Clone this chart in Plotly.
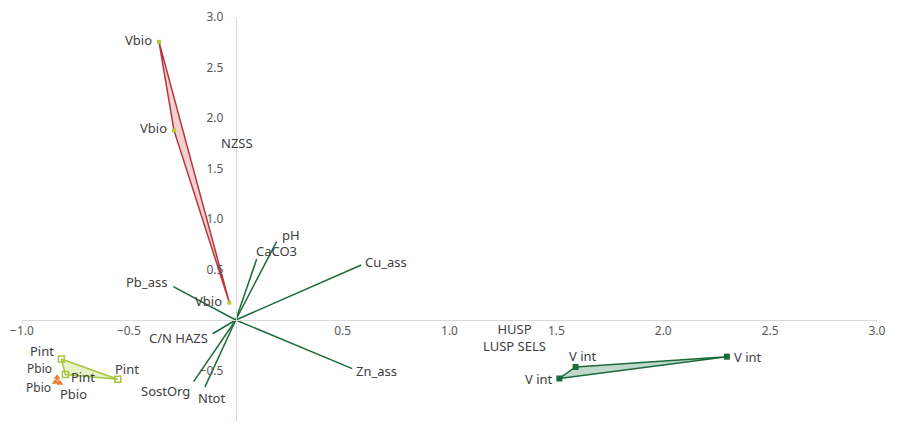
import plotly.graph_objects as go

# Group scores (x, y)
vbio_x = [-0.359, -0.289, -0.030]
vbio_y = [2.754, 1.877, 0.172]

pint_x = [-0.816, -0.797, -0.552]
pint_y = [-0.386, -0.540, -0.586]

pbio_x = [-0.836, -0.845, -0.822]
pbio_y = [-0.566, -0.616, -0.626]

vint_x = [1.514, 1.590, 2.298]
vint_y = [-0.579, -0.465, -0.363]

# Variable loadings (arrow tips from the origin)
var_names = ["pH", "CaCO3", "Cu_ass", "Zn_ass", "Pb_ass", "C/N HAZS", "SostOrg", "Ntot"]
var_x = [0.191, 0.098, 0.587, 0.545, -0.292, -0.108, -0.197, -0.144]
var_y = [0.776, 0.603, 0.544, -0.481, 0.330, -0.136, -0.610, -0.662]

# Loose labels without a drawn mark
free_labels = ["NZSS", "HUSP<br>LUSP SELS"]
free_x = [0.006, 1.305]
free_y = [1.749, -0.177]

x_ticks = [-1.0, -0.5, 0.5, 1.0, 1.5, 2.0, 2.5, 3.0]
y_ticks = [-1.0, -0.5, 0.5, 1.0, 1.5, 2.0, 2.5, 3.0]

FONT = "Noto Sans"
TXT = "#404040"
DKGREEN = "#1B6B3A"

fig = go.Figure()


def closed(a):
    return list(a) + [a[0]]


# Group hulls
fig.add_trace(go.Scatter(x=closed(vbio_x), y=closed(vbio_y), mode="lines", fill="toself",
                         fillcolor="rgba(214,120,120,0.35)", line=dict(color="#B8343A", width=1.5),
                         hoverinfo="skip"))
fig.add_trace(go.Scatter(x=closed(pint_x), y=closed(pint_y), mode="lines", fill="toself",
                         fillcolor="rgba(190,214,90,0.35)", line=dict(color="#A5C640", width=1.5),
                         hoverinfo="skip"))
fig.add_trace(go.Scatter(x=closed(pbio_x), y=closed(pbio_y), mode="lines", fill="toself",
                         fillcolor="rgba(237,125,49,0.6)", line=dict(color="#ED7D31", width=1.2),
                         hoverinfo="skip"))
fig.add_trace(go.Scatter(x=closed(vint_x), y=closed(vint_y), mode="lines", fill="toself",
                         fillcolor="rgba(60,140,95,0.33)", line=dict(color=DKGREEN, width=1.5),
                         hoverinfo="skip"))

# Loading vectors
for n, vx, vy in zip(var_names, var_x, var_y):
    fig.add_trace(go.Scatter(x=[0, vx], y=[0, vy], mode="lines",
                             line=dict(color=DKGREEN, width=1.5), hoverinfo="skip"))

# Group points
fig.add_trace(go.Scatter(x=vbio_x, y=vbio_y, mode="markers",
                         marker=dict(symbol="square", size=4, color="#B5CC3A")))
fig.add_trace(go.Scatter(x=pint_x, y=pint_y, mode="markers",
                         marker=dict(symbol="square-open", size=6, color="#A5C640",
                                     line=dict(width=1.5))))
fig.add_trace(go.Scatter(x=pbio_x, y=pbio_y, mode="markers",
                         marker=dict(symbol="triangle-up", size=6, color="#ED7D31")))
fig.add_trace(go.Scatter(x=vint_x, y=vint_y, mode="markers",
                         marker=dict(symbol="square", size=6, color=DKGREEN)))


def label(text, x, y, xanchor="center", xs=0, ys=0, size=13):
    fig.add_annotation(x=x, y=y, text=text, showarrow=False, xanchor=xanchor,
                       yanchor="middle", xshift=xs, yshift=ys,
                       font=dict(family=FONT, size=size, color=TXT), borderpad=0)


# Point labels
for px, py in zip(vbio_x, vbio_y):
    label("Vbio", px, py, "right", -6, 2)
label("Pint", pint_x[0], pint_y[0], "right", -6, 8)
label("Pint", pint_x[1], pint_y[1], "left", 5, -2)
label("Pint", pint_x[2], pint_y[2], "left", -4, 10)
label("Pbio", pbio_x[0], pbio_y[0], "right", -4, 9, size=12)
label("Pbio", pbio_x[1], pbio_y[1], "right", -3, -5, size=12)
label("Pbio", pbio_x[2], pbio_y[2], "left", -1, -11)
label("V int", vint_x[0], vint_y[0], "right", -5, -1)
label("V int", vint_x[1], vint_y[1], "left", -8, 11)
label("V int", vint_x[2], vint_y[2], "left", 6, 0)

# Vector labels
vec_pos = {
    "pH": ("left", 4, 7),
    "CaCO3": ("left", -2, 8),
    "Cu_ass": ("left", 3, 3),
    "Zn_ass": ("left", 3, -2),
    "Pb_ass": ("right", -5, 5),
    "C/N HAZS": ("right", -4, -4),
    "SostOrg": ("right", -3, -9),
    "Ntot": ("center", 7, -11),
}
for n, vx, vy in zip(var_names, var_x, var_y):
    a, xs, ys = vec_pos[n]
    label(n, vx, vy, a, xs, ys)

for t, fx, fy in zip(free_labels, free_x, free_y):
    label(t, fx, fy, "center")

axis_common = dict(
    showgrid=False, zeroline=False, showline=True, linecolor="#D9D9D9", linewidth=1,
    ticks="", tickformat=".1f", tickfont=dict(family=FONT, size=12, color="#595959"),
    range=[-1, 3], anchor="free", position=0.25,
)

fig.update_layout(
    width=901, height=429,
    margin=dict(l=22, r=24, t=15, b=8),
    paper_bgcolor="white", plot_bgcolor="white",
    showlegend=False,
    xaxis=dict(tickvals=x_ticks, **axis_common),
    yaxis=dict(tickvals=y_ticks, ticklabelstandoff=10, **axis_common),
)

# End tick marks on the crossing axes
for sx0, sy0, sx1, sy1 in [(-1, 0, -1, -0.05), (3, 0, 3, -0.05)]:
    fig.add_shape(type="line", x0=sx0, y0=sy0, x1=sx1, y1=sy1, line=dict(color="#D9D9D9", width=1))
for sx0, sy0, sx1, sy1 in [(0, 3, -0.02, 3), (0, -1, -0.02, -1)]:
    fig.add_shape(type="line", x0=sx0, y0=sy0, x1=sx1, y1=sy1, line=dict(color="#D9D9D9", width=1))

fig.write_html("out.html")
